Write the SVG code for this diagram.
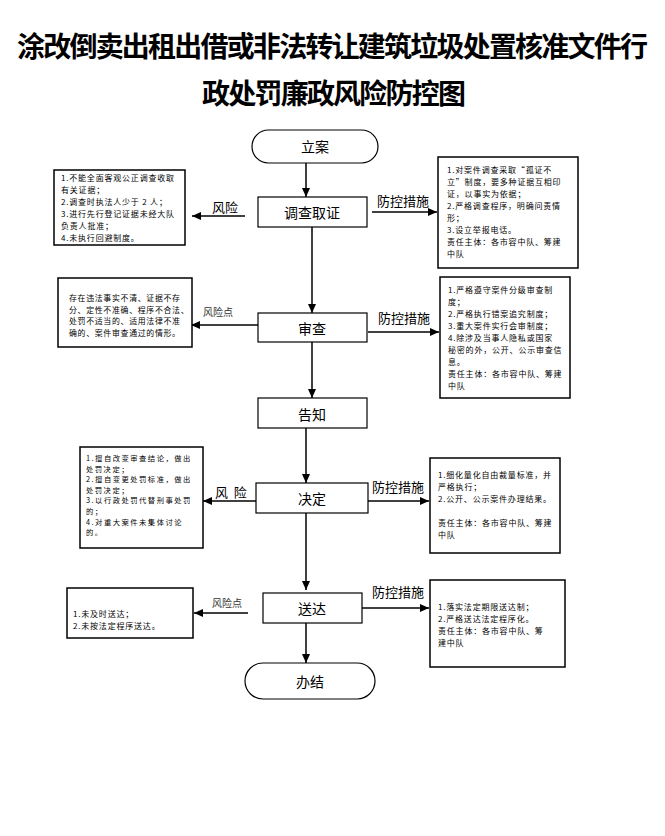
<svg xmlns="http://www.w3.org/2000/svg" width="665" height="836" viewBox="0 0 665 836">
<style>
.title{font-family:"Noto Sans CJK SC","Noto Sans",sans-serif;font-weight:bold;font-size:28px;fill:#000}
.node{fill:#fff;stroke:#000;stroke-width:1.2}
.side{fill:#fff;stroke:#000;stroke-width:1.5}
.nt{font-family:"Noto Sans CJK SC",sans-serif;font-size:14px;fill:#000;text-anchor:middle;dominant-baseline:central}
.lb{font-family:"Noto Sans CJK SC",sans-serif;font-size:13px;fill:#000}
.lbs{font-family:"Noto Sans CJK SC",sans-serif;font-size:10px;fill:#333}
.st{font-family:"Noto Sans CJK SC",sans-serif;font-size:8px;letter-spacing:0.8px;fill:#000}
.st2{font-family:"Noto Sans CJK SC",sans-serif;font-size:7.9px;letter-spacing:0.7px;fill:#000}
.st3{font-family:"Noto Sans CJK SC",sans-serif;font-size:7.3px;letter-spacing:1.5px;fill:#000}
.ln{stroke:#000;stroke-width:1.5;fill:none;marker-end:url(#ah)}
</style>
<defs>
<marker id="ah" markerUnits="userSpaceOnUse" markerWidth="9" markerHeight="8" refX="9" refY="4" orient="auto">
<path d="M0,0 L9,4 L0,8 z" fill="#000"/>
</marker>
</defs>
<rect width="665" height="836" fill="#fff"/>
<text class="title" x="17" y="57" textLength="631" lengthAdjust="spacing">涂改倒卖出租出借或非法转让建筑垃圾处置核准文件行</text>
<text class="title" x="202" y="104" textLength="264" lengthAdjust="spacing">政处罚廉政风险防控图</text>

<g id="connectors">
<line class="ln" x1="306" y1="163" x2="306" y2="197"/>
<line class="ln" x1="312" y1="227" x2="312" y2="313"/>
<line class="ln" x1="312" y1="342" x2="312" y2="398"/>
<line class="ln" x1="306" y1="428" x2="306" y2="483"/>
<line class="ln" x1="306" y1="513" x2="306" y2="590"/>
<line class="ln" x1="306" y1="623" x2="306" y2="663"/>
<line class="ln" x1="245" y1="216" x2="192" y2="216"/>
<line class="ln" x1="372" y1="212" x2="437" y2="212"/>
<line class="ln" x1="258" y1="325" x2="191" y2="325"/>
<line class="ln" x1="368" y1="332" x2="439" y2="332"/>
<line class="ln" x1="256" y1="501" x2="203" y2="501"/>
<line class="ln" x1="368" y1="501" x2="429" y2="501"/>
<line class="ln" x1="248" y1="613" x2="194" y2="613"/>
<line class="ln" x1="362" y1="608" x2="429" y2="608"/>
<text class="lb" x="212" y="212">风险</text>
<text class="lb" x="377" y="206">防控措施</text>
<text class="lbs" x="203" y="316">风险点</text>
<text class="lb" x="378" y="323">防控措施</text>
<text class="lb" x="215" y="497" xml:space="preserve">风  险</text>
<text class="lb" x="372" y="492">防控措施</text>
<text class="lbs" x="212" y="607">风险点</text>
<text class="lb" x="372" y="597">防控措施</text>
</g>

<g id="n-lian"><rect class="node" x="252" y="130" width="126" height="33" rx="16.5"/><text class="nt" x="315" y="146">立案</text></g>
<g id="n-diaocha"><rect class="node" x="258" y="197" width="109" height="30"/><text class="nt" x="312" y="212">调查取证</text></g>
<g id="n-shencha"><rect class="node" x="258" y="313" width="109" height="29"/><text class="nt" x="312" y="328">审查</text></g>
<g id="n-gaozhi"><rect class="node" x="258" y="398" width="109" height="30"/><text class="nt" x="312" y="414">告知</text></g>
<g id="n-jueding"><rect class="node" x="256" y="483" width="112" height="30"/><text class="nt" x="312" y="498">决定</text></g>
<g id="n-songda"><rect class="node" x="263" y="593" width="99" height="30"/><text class="nt" x="312" y="608">送达</text></g>
<g id="n-banjie"><rect class="node" x="245" y="663" width="130" height="36" rx="18"/><text class="nt" x="310" y="681">办结</text></g>

<g id="risk1"><rect class="side" x="54" y="170" width="131" height="75"/>
<text class="st"><tspan x="61" y="181">1.不能全面客观公正调查收取</tspan><tspan x="61" y="193">有关证据；</tspan><tspan x="61" y="205">2.调查时执法人少于 2 人；</tspan><tspan x="61" y="217">3.进行先行登记证据未经大队</tspan><tspan x="61" y="229">负责人批准；</tspan><tspan x="61" y="241">4.未执行回避制度。</tspan></text></g>

<g id="ctrl1"><rect class="side" x="438" y="157" width="140" height="111"/>
<text class="st"><tspan x="447" y="173">1.对案件调查采取“孤证不</tspan><tspan x="447" y="185">立”制度，要多种证据互相印</tspan><tspan x="447" y="197">证，以事实为依据；</tspan><tspan x="447" y="209">2.严格调查程序，明确问责情</tspan><tspan x="447" y="221">形；</tspan><tspan x="447" y="233">3.设立举报电话。</tspan><tspan x="447" y="245">责任主体：各市容中队、筹建</tspan><tspan x="447" y="257">中队</tspan></text></g>

<g id="risk2"><rect class="side" x="58" y="278" width="134" height="69"/>
<text class="st2"><tspan x="69" y="301">存在违法事实不清、证据不存</tspan><tspan x="69" y="312.5">分、定性不准确、程序不合法、</tspan><tspan x="69" y="324">处罚不适当的、适用法律不准</tspan><tspan x="69" y="335.5">确的、案件审查通过的情形。</tspan></text></g>

<g id="ctrl2"><rect class="side" x="440" y="277" width="130" height="121"/>
<text class="st"><tspan x="448" y="293">1.严格遵守案件分级审查制</tspan><tspan x="448" y="305">度；</tspan><tspan x="448" y="317">2.严格执行错案追究制度；</tspan><tspan x="448" y="329">3.重大案件实行会审制度；</tspan><tspan x="448" y="341">4.除涉及当事人隐私或国家</tspan><tspan x="448" y="353">秘密的外，公开、公示审查信</tspan><tspan x="448" y="365">息。</tspan><tspan x="448" y="377">责任主体：各市容中队、筹建</tspan><tspan x="448" y="389">中队</tspan></text></g>

<g id="risk3"><rect class="side" x="80" y="447" width="123" height="101"/>
<text class="st3"><tspan x="86" y="461">1.擅自改变审查结论，做出</tspan><tspan x="86" y="471.6">处罚决定；</tspan><tspan x="86" y="482.2">2.擅自变更处罚标准，做出</tspan><tspan x="86" y="492.8">处罚决定；</tspan><tspan x="86" y="503.4">3.以行政处罚代替刑事处罚</tspan><tspan x="86" y="514">的；</tspan><tspan x="86" y="524.6">4.对重大案件未集体讨论</tspan><tspan x="86" y="535.2">的。</tspan></text></g>

<g id="ctrl3"><rect class="side" x="430" y="458" width="130" height="95"/>
<text class="st"><tspan x="438" y="478">1.细化量化自由裁量标准，并</tspan><tspan x="438" y="490">严格执行；</tspan><tspan x="438" y="502">2.公开、公示案件办理结果。</tspan><tspan x="438" y="526">责任主体：各市容中队、筹建</tspan><tspan x="438" y="538">中队</tspan></text></g>

<g id="risk4"><rect class="side" x="67" y="588" width="126" height="50"/>
<text class="st"><tspan x="73" y="617">1.未及时送达；</tspan><tspan x="73" y="629">2.未按法定程序送达。</tspan></text></g>

<g id="ctrl4"><rect class="side" x="430" y="580" width="135" height="87"/>
<text class="st"><tspan x="438" y="610">1.落实法定期限送达制；</tspan><tspan x="438" y="622">2.严格送达法定程序化。</tspan><tspan x="438" y="634">责任主体：各市容中队、筹</tspan><tspan x="438" y="646">建中队</tspan></text></g>
</svg>
